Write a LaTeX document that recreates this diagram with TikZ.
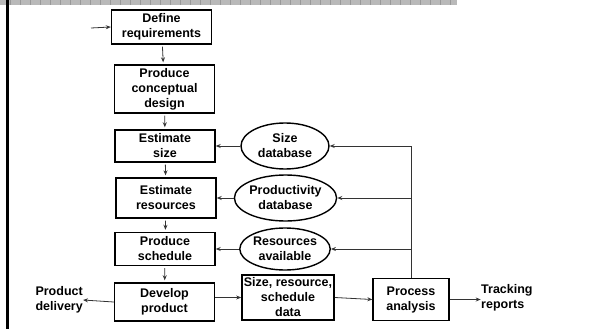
\documentclass[tikz,border=0pt]{standalone}
\usepackage{fontspec}
\setmainfont{Liberation Sans}
\usetikzlibrary{shapes.geometric,arrows.meta}
\tikzset{
  stepbox/.style={draw,line width=1.4pt,align=center,minimum width=100pt,minimum height=34pt,inner sep=2pt},
  dbase/.style={draw,ellipse,line width=1.4pt,align=center,minimum width=88pt,minimum height=46pt,inner sep=0pt},
  flow/.style={draw=black!80,line width=0.8pt,-{Stealth[length=5pt,width=4pt]}},
  lbl/.style={align=left,inner sep=0pt}
}
\begin{document}
\begin{tikzpicture}[x=1pt,y=-1pt,font=\fontsize{12.5}{15}\selectfont\bfseries]
\useasboundingbox (0,0) rectangle (591,329);
% header strip and left rule
\fill[gray!55] (0,0) rectangle (457,5);
\foreach \i in {10,20,...,450}
  \draw[gray!80,line width=0.6pt] (\i,0) -- (\i,5);
\fill[black] (6,0) rectangle (9,329);
% process steps
\node[stepbox] (defreq) at (161.5,27) {Define\\requirements};
\node[stepbox,minimum height=48pt] (concept) at (164.5,89) {Produce\\conceptual\\design};
\node[stepbox,minimum height=32pt] (estsize) at (165,146) {Estimate\\size};
\node[stepbox,minimum height=40pt] (estres) at (166,198) {Estimate\\resources};
\node[stepbox,minimum height=33pt] (sched) at (165,249) {Produce\\schedule};
\node[stepbox,minimum height=38pt] (develop) at (164.5,302) {Develop\\product};
% data sources
\node[dbase] (sizedb) at (285,146) {Size\\database};
\node[dbase,minimum width=91pt] (proddb) at (285.5,198) {Productivity\\database};
\node[dbase,minimum height=42pt] (resav) at (285,249) {Resources\\available};
\node[stepbox,minimum width=91pt,minimum height=45pt] (sizedata) at (288,297.5) {Size, resource,\\schedule\\data};
\node[stepbox,minimum width=76pt,minimum height=42pt] (procana) at (411,299.5) {Process\\analysis};
% outputs
\node[lbl,anchor=west] (track) at (481,298) {Tracking\\reports};
\node[lbl,anchor=east] (deliv) at (83,300) {Product\\delivery};
\coordinate (start) at (91,28);
% main flow
\draw[flow] (start) -- (defreq.west);
\draw[flow,shorten <=2pt,shorten >=2pt] (defreq) -- (concept);
\draw[flow,shorten <=2pt,shorten >=2pt] (concept) -- (estsize);
\draw[flow,shorten <=2pt,shorten >=2pt] (estsize) -- (estres);
\draw[flow,shorten <=2pt,shorten >=2pt] (estres) -- (sched);
\draw[flow,shorten <=2pt,shorten >=2pt] (sched) -- (develop);
\draw[flow] (sizedb.west) -- (estsize.east);
\draw[flow] (proddb.west) -- (estres.east);
\draw[flow] (resav.west) -- (sched.east);
\draw[flow] (develop.east |- sizedata.west) -- (sizedata.west);
\draw[flow] (develop.west) -- (deliv.east);
\draw[flow] (sizedata.east) -- (procana.west);
\draw[flow] (procana.east) -- ++(31,0);
% feedback
\draw[flow] (procana.north) |- (sizedb.east);
\draw[flow] (procana.north |- proddb.east) -- (proddb.east);
\draw[flow] (procana.north |- resav.east) -- (resav.east);
\end{tikzpicture}
\end{document}
